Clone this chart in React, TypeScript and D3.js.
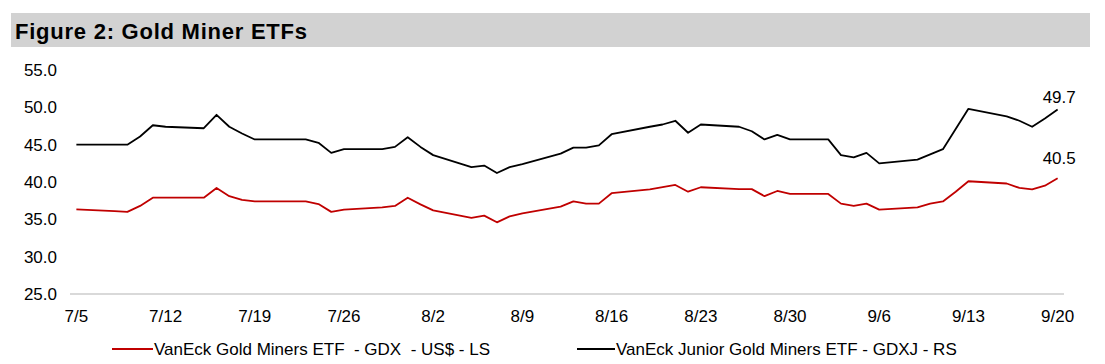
import * as d3 from 'd3';

const dates = [
  '2024-07-05', '2024-07-08', '2024-07-09', '2024-07-10', '2024-07-11', '2024-07-12',
  '2024-07-15', '2024-07-16', '2024-07-17', '2024-07-18', '2024-07-19',
  '2024-07-22', '2024-07-23', '2024-07-24', '2024-07-25', '2024-07-26',
  '2024-07-29', '2024-07-30', '2024-07-31', '2024-08-01', '2024-08-02',
  '2024-08-05', '2024-08-06', '2024-08-07', '2024-08-08', '2024-08-09',
  '2024-08-12', '2024-08-13', '2024-08-14', '2024-08-15', '2024-08-16',
  '2024-08-19', '2024-08-20', '2024-08-21', '2024-08-22', '2024-08-23',
  '2024-08-26', '2024-08-27', '2024-08-28', '2024-08-29', '2024-08-30',
  '2024-09-02', '2024-09-03', '2024-09-04', '2024-09-05', '2024-09-06',
  '2024-09-09', '2024-09-10', '2024-09-11', '2024-09-12', '2024-09-13',
  '2024-09-16', '2024-09-17', '2024-09-18', '2024-09-19', '2024-09-20',
];

// VanEck Gold Miners ETF (GDX)
const gdx = [
  36.34, 36.1, 36.0, 36.8, 37.9, 37.9,
  37.9, 39.2, 38.1, 37.6, 37.4,
  37.4, 37.4, 37.05, 36.0, 36.3,
  36.6, 36.8, 37.9, 37.0, 36.2,
  35.2, 35.5, 34.6, 35.4, 35.8,
  36.7, 37.4, 37.1, 37.1, 38.5,
  39.0, 39.3, 39.6, 38.7, 39.3,
  39.05, 39.05, 38.1, 38.8, 38.4,
  38.4, 37.1, 36.8, 37.1, 36.3,
  36.6, 37.1, 37.4, 38.7, 40.1,
  39.8, 39.2, 39.0, 39.5, 40.5,
];

// VanEck Junior Gold Miners ETF (GDXJ)
const gdxj = [
  45.0, 45.0, 45.0, 46.1, 47.6, 47.4,
  47.2, 49.0, 47.4, 46.5, 45.7,
  45.7, 45.7, 45.25, 43.9, 44.4,
  44.4, 44.7, 46.0, 44.7, 43.6,
  42.0, 42.2, 41.2, 42.0, 42.4,
  43.8, 44.6, 44.6, 44.9, 46.4,
  47.4, 47.7, 48.2, 46.6, 47.7,
  47.4, 46.8, 45.7, 46.3, 45.7,
  45.7, 43.6, 43.3, 43.9, 42.5,
  43.0, 43.7, 44.4, 47.1, 49.8,
  48.8, 48.2, 47.4, 48.5, 49.7,
];

const tickDates = [
  '2024-07-05', '2024-07-12', '2024-07-19', '2024-07-26', '2024-08-02', '2024-08-09',
  '2024-08-16', '2024-08-23', '2024-08-30', '2024-09-06', '2024-09-13', '2024-09-20',
];
const tickLabels = ['7/5', '7/12', '7/19', '7/26', '8/2', '8/9', '8/16', '8/23', '8/30', '9/6', '9/13', '9/20'];
const yTicks = [25, 30, 35, 40, 45, 50, 55];

const W = 1105;
const H = 364;
const font = '"Liberation Sans", Arial, sans-serif';
const parse = d3.timeParse('%Y-%m-%d');

export default function App() {
  const parsed = dates.map(d => parse(d) as Date);
  const x = d3.scaleTime()
    .domain([d3.timeHour.offset(parse('2024-07-04') as Date, 12), d3.timeHour.offset(parse('2024-09-20') as Date, 12)])
    .range([70, 1064]);
  const y = d3.scaleLinear().domain([25, 55]).range([294, 70]);

  const line = d3.line<number>()
    .x((_, i) => x(parsed[i]))
    .y(d => y(d));

  const last = parsed.length - 1;

  return (
    <svg width={W} height={H} style={{ position: 'absolute', left: 0, top: 0, background: '#fff' }} fontFamily={font}>
      <rect x={11} y={13} width={1079} height={34} fill="#d2d2d2" />
      <text x={15} y={38.5} fontSize={22} fontWeight="bold" fill="#000" textLength={292} lengthAdjust="spacing">Figure 2: Gold Miner ETFs</text>

      <line x1={70} x2={1064} y1={y(25)} y2={y(25)} stroke="#d9d9d9" strokeWidth={2} />

      {yTicks.map(t => (
        <text key={t} x={57} y={y(t) + 6} fontSize={17} textAnchor="end" fill="#000">{t.toFixed(1)}</text>
      ))}
      {tickDates.map((d, i) => (
        <text key={d} x={x(parse(d) as Date)} y={322} fontSize={17} textAnchor="middle" fill="#000">{tickLabels[i]}</text>
      ))}

      <path d={line(gdx) ?? ''} fill="none" stroke="#c00000" strokeWidth={1.8} strokeLinejoin="round" />
      <path d={line(gdxj) ?? ''} fill="none" stroke="#000" strokeWidth={1.8} strokeLinejoin="round" />

      <text x={x(parsed[last]) - 15} y={y(gdxj[last]) - 7} fontSize={17} fill="#000">{gdxj[last].toFixed(1)}</text>
      <text x={x(parsed[last]) - 15} y={y(gdx[last]) - 14} fontSize={17} fill="#000">{gdx[last].toFixed(1)}</text>

      <line x1={112} x2={153} y1={349} y2={349} stroke="#c00000" strokeWidth={2} />
      <text x={154} y={355} fontSize={17} fill="#000" style={{ whiteSpace: 'pre' }}>VanEck Gold Miners ETF  - GDX  - US$ - LS</text>
      <line x1={577} x2={615} y1={349} y2={349} stroke="#000" strokeWidth={2} />
      <text x={616} y={355} fontSize={17} fill="#000" style={{ whiteSpace: 'pre' }}>VanEck Junior Gold Miners ETF - GDXJ - RS</text>
    </svg>
  );
}
